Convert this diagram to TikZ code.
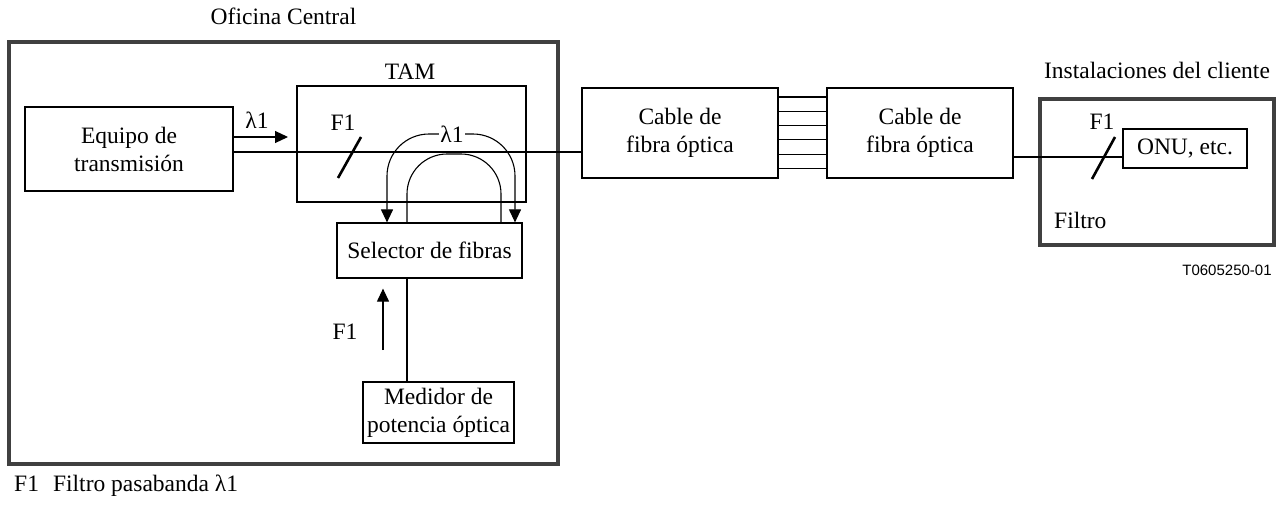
\documentclass[tikz,border=0pt]{standalone}
\usepackage{fontspec}
\setmainfont{Liberation Serif}
\newfontfamily\sansf{Liberation Sans}
\usetikzlibrary{arrows.meta}
\begin{document}
\begin{tikzpicture}[x=1pt,y=-1pt,
  every node/.style={font=\fontsize{23.5}{28}\selectfont},
  box/.style={draw,line width=1.2pt,inner sep=0pt,align=center},
  zone/.style={draw=black!75,line width=3.5pt,inner sep=0pt},
  wire/.style={line width=1.1pt},
  arr/.style={wire,-{Triangle[length=13pt,width=12pt]}},
  darr/.style={wire,{Triangle[length=13pt,width=12pt]}-{Triangle[length=13pt,width=12pt]}},
  slash/.style={line width=2.6pt},
  lbl/.style={inner sep=1pt}]
\useasboundingbox (0,0) rectangle (1281,506);

% zones
\node[zone,minimum width=549pt,minimum height=422pt] (oc) at (283.5,253) {};
\node[lbl] (octitle) at (283.5,16) {Oficina Central};
\node[zone,minimum width=234pt,minimum height=146pt] (cl) at (1157,172) {};
\node[lbl] (cltitle) at (1157,70) {Instalaciones del cliente};

% boxes
\node[box,minimum width=208pt,minimum height=84pt] (eq) at (129,149) {Equipo de\\transmisión};
\node[box,minimum width=229pt,minimum height=116pt] (tam) at (411.5,144) {};
\node[lbl] (tamlbl) at (410,72) {TAM};
\node[box,minimum width=185pt,minimum height=55pt] (sel) at (429.5,250.5) {Selector de fibras};
\node[box,minimum width=151pt,minimum height=61pt] (med) at (438.5,412.5) {Medidor de\\potencia óptica};
\node[box,minimum width=196pt,minimum height=90pt] (c1) at (680,133) {Cable de\\fibra óptica};
\node[box,minimum width=186pt,minimum height=90pt] (c2) at (920,133) {Cable de\\fibra óptica};
\node[box,minimum width=124pt,minimum height=39pt] (onu) at (1185,148.5) {ONU, etc.};

% labels
\node[lbl] (lam1) at (257,120) {λ1};
\node[lbl] (f1a) at (343,123) {F1};
\node[lbl] (f1b) at (345,332) {F1};
\node[lbl] (f1c) at (1102,122) {F1};
\node[lbl,anchor=west] (filtro) at (1053,220) {Filtro};
\node[lbl] (code) at (1227,270) {\sansf\fontsize{15}{18}\selectfont T0605250-01};
\node[lbl,anchor=west] (foot) at (13,486) {F1\hspace{0.6em}Filtro pasabanda λ1};

% coordinates
\coordinate (arrend) at (288,137);
\coordinate (olx) at (387,134);
\coordinate (orx) at (515,134);
\coordinate (ilx) at (407,154);
\coordinate (irx) at (501,154);
\coordinate (fax) at (383,350);
\coordinate (vx) at (407,0);

% main fibre line
\draw[wire] ([yshift=-3pt]eq.east) -- ([yshift=-19pt]c1.west);
% lambda1 arrow
\draw[arr] ([yshift=12pt]eq.east) -- (arrend);
% F1 slash in TAM
\draw[slash] (338,178) -- (361,137);

% loops
\draw[darr,rounded corners=42pt] (sel.north -| olx) -- (olx) -- (orx) -- (sel.north -| orx);
\node[fill=white,inner sep=1.5pt] (lam2) at (452,134) {λ1};
\draw[wire,rounded corners=40pt] (sel.north -| ilx) -- (ilx) -- (irx) -- (sel.north -| irx);

% F1 arrow and selector - meter line
\draw[arr,shorten >=10pt] (fax) -- (sel.south -| fax);
\draw[wire] (sel.south -| vx) -- (med.north -| vx);

% fibre bundle
\foreach \d in {36,21.7,7.4,-6.9,-21.2,-35.5}
  \draw[wire] ([yshift=\d pt]c1.east) -- ([yshift=\d pt]c2.west);

% customer line
\draw[wire] ([yshift=-24pt]c2.east) -- ([yshift=-8.5pt]onu.west);
\draw[slash] (1092,179) -- (1115,137);
\end{tikzpicture}
\end{document}
